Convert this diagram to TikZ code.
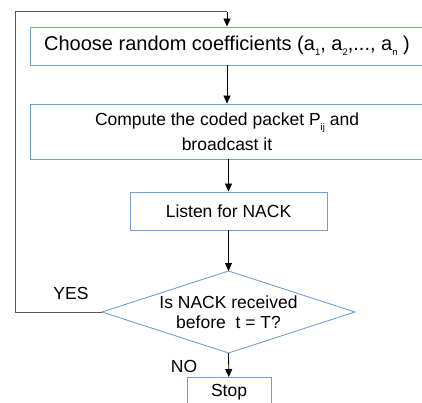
\documentclass[tikz,border=0pt]{standalone}
\usepackage{fontspec}
\setmainfont{Liberation Sans}
\usetikzlibrary{shapes.geometric,arrows.meta}
\definecolor{boxblue}{HTML}{729FCF}
\definecolor{loopgrey}{HTML}{555555}
\tikzset{
  flowbox/.style={draw=boxblue, line width=0.9pt, inner sep=0pt, align=center, font=\fontsize{17.5}{25}\selectfont},
  arr/.style={-{Triangle[length=8pt,width=7pt]}, line width=0.8pt, black},
  loopline/.style={line width=1pt, loopgrey},
  lbl/.style={font=\fontsize{17.5}{21}\selectfont, inner sep=0pt},
}
\newcommand{\lowsub}[1]{\raisebox{-5pt}{\fontsize{9.5}{10}\selectfont #1}}
\begin{document}
\begin{tikzpicture}[x=1pt,y=-1pt]
\useasboundingbox (0,0) rectangle (422,403);
\node[flowbox, minimum width=394pt, minimum height=38pt, font=\fontsize{20}{24}\selectfont] (choose) at (227,46) {Choose random coefficients (a\lowsub{1}, a\lowsub{2},..., a\lowsub{n} )};
\node[flowbox, minimum width=394pt, minimum height=55pt] (compute) at (227,131.5) {Compute the coded packet P\lowsub{ij} and\\broadcast it};
\node[flowbox, minimum width=197pt, minimum height=38pt] (listen) at (228.5,211) {Listen for NACK};
\coordinate (dtop) at (228.5,271);
\coordinate (dbot) at (228.5,353);
\coordinate (dleft) at (102,312);
\coordinate (dright) at (355,312);
\draw[boxblue, line width=0.9pt] (dtop) -- (dright) -- (dbot) -- (dleft) -- cycle;
\node[align=center, inner sep=0pt, font=\fontsize{17.5}{20}\selectfont] (decision) at (228.5,312) {Is NACK received\\before\ \ t = T?};
\node[flowbox, minimum width=84pt, minimum height=30pt, anchor=north] (stop) at (229,377) {Stop};
\coordinate (loopA) at (15,312);
\coordinate (loopB) at (15,12);
\coordinate (loopC) at (227,12);
\draw[arr] (choose) -- (compute);
\draw[arr] (compute.south -| listen.north) -- (listen);
\draw[arr] (listen) -- (dtop);
\draw[arr] (dbot) -- (stop);
\draw[loopline] (dleft) -- (loopA) -- (loopB) -- (loopC);
\draw[arr, line width=0.8pt] (loopC) -- (choose.north);
\node[lbl] (yes) at (71,293) {YES};
\node[lbl] (no) at (184,366) {NO};
\end{tikzpicture}
\end{document}
